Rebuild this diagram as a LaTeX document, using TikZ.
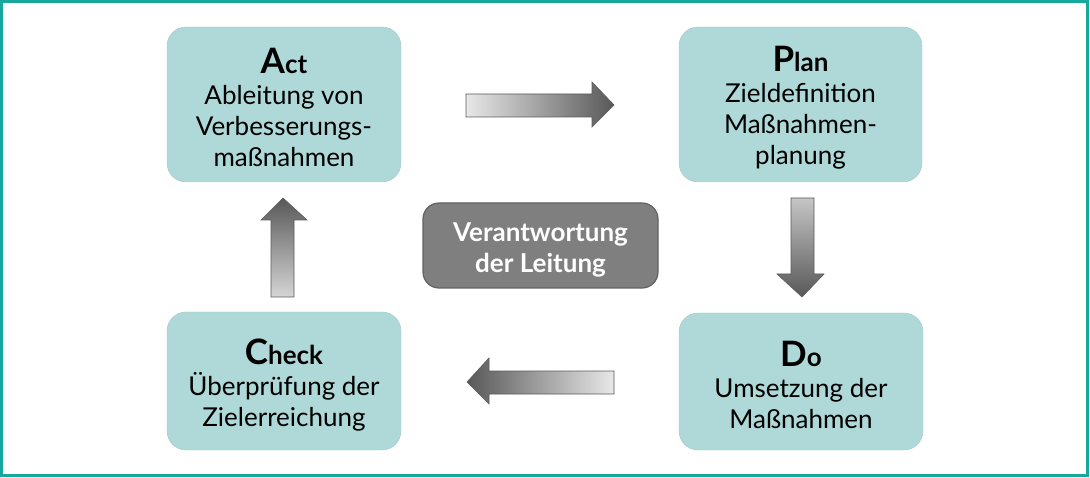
\documentclass[tikz,border=0pt]{standalone}
\usepackage{fontspec}
\setmainfont{Lato}
\usetikzlibrary{positioning}
\definecolor{frameteal}{HTML}{17A89D}
\definecolor{boxfill}{HTML}{AFD9D8}
\definecolor{midgray}{HTML}{7F7F7F}
\definecolor{midborder}{HTML}{626262}
\definecolor{arrowdark}{HTML}{585858}
\definecolor{arrowlight}{HTML}{E8E8E8}
\definecolor{arrowline}{HTML}{5A5A5A}
\newcommand{\bigletter}[1]{{\bfseries\fontsize{35}{35}\selectfont #1}}
\newcommand{\smallbold}[1]{{\bfseries #1}}
\newcommand{\lift}[1]{\rule{0pt}{#1}}
\tikzset{
  phase/.style={draw=boxfill!92!black, line width=0.4pt, fill=boxfill, rounded corners=19pt,
    align=center, inner sep=0pt, font=\fontsize{26}{31}\selectfont},
  lead/.style={draw=midborder, line width=1.2pt, fill=midgray, rounded corners=16pt,
    align=center, inner sep=0pt, text=white, font=\bfseries\fontsize{26}{31}\selectfont},
  blockarrow/.style={draw=arrowline, line width=0.6pt, line join=miter}
}
\begin{document}
\begin{tikzpicture}[x=1pt,y=-1pt]
\useasboundingbox (0,0) rectangle (1090,478);
\draw[frameteal, line width=3.2pt] (1.6,1.6) rectangle (1087.6,475.6);

\node[phase, minimum width=234pt, minimum height=155pt] (act) at (284,104.5)
  {\lift{31pt}\bigletter{A}\smallbold{ct}\\Ableitung von\\Verbesserungs-\\maßnahmen};
\node[phase, minimum width=243pt, minimum height=155pt] (plan) at (800.5,104.5)
  {\lift{32pt}\bigletter{P}\smallbold{lan}\\Zieldefinition\\Maßnahmen-\\planung};
\node[phase, minimum width=234pt, minimum height=138pt] (check) at (284,381)
  {\lift{33pt}\bigletter{C}\smallbold{heck}\\Überprüfung der\\Zielerreichung};
\node[phase, minimum width=244pt, minimum height=137pt] (do) at (801,381.5)
  {\lift{32pt}\bigletter{D}\smallbold{o}\\Umsetzung der\\Maßnahmen};
\node[lead, minimum width=235pt, minimum height=85pt] (lead) at (540.5,245.5)
  {\lift{27pt}Verantwortung\\der Leitung};

% Act -> Plan
\draw[blockarrow, left color=arrowlight, right color=arrowdark]
  (466,94) -- (592,94) -- (592,82) -- (614,105) -- (592,127) -- (592,117) -- (466,117) -- cycle;
% Plan -> Do
\draw[blockarrow, top color=arrowlight!85!black, bottom color=arrowdark]
  (791,198) -- (814,198) -- (814,274) -- (824,274) -- (802,297) -- (777,274) -- (791,274) -- cycle;
% Do -> Check
\draw[blockarrow, right color=arrowlight, left color=arrowdark]
  (614,371) -- (489,371) -- (489,358) -- (467,382) -- (489,404) -- (489,394) -- (614,394) -- cycle;
% Check -> Act
\draw[blockarrow, bottom color=arrowlight!92!black, top color=arrowdark]
  (271,297) -- (271,220) -- (261,220) -- (283,198) -- (307,220) -- (294,220) -- (294,297) -- cycle;
\end{tikzpicture}
\end{document}
